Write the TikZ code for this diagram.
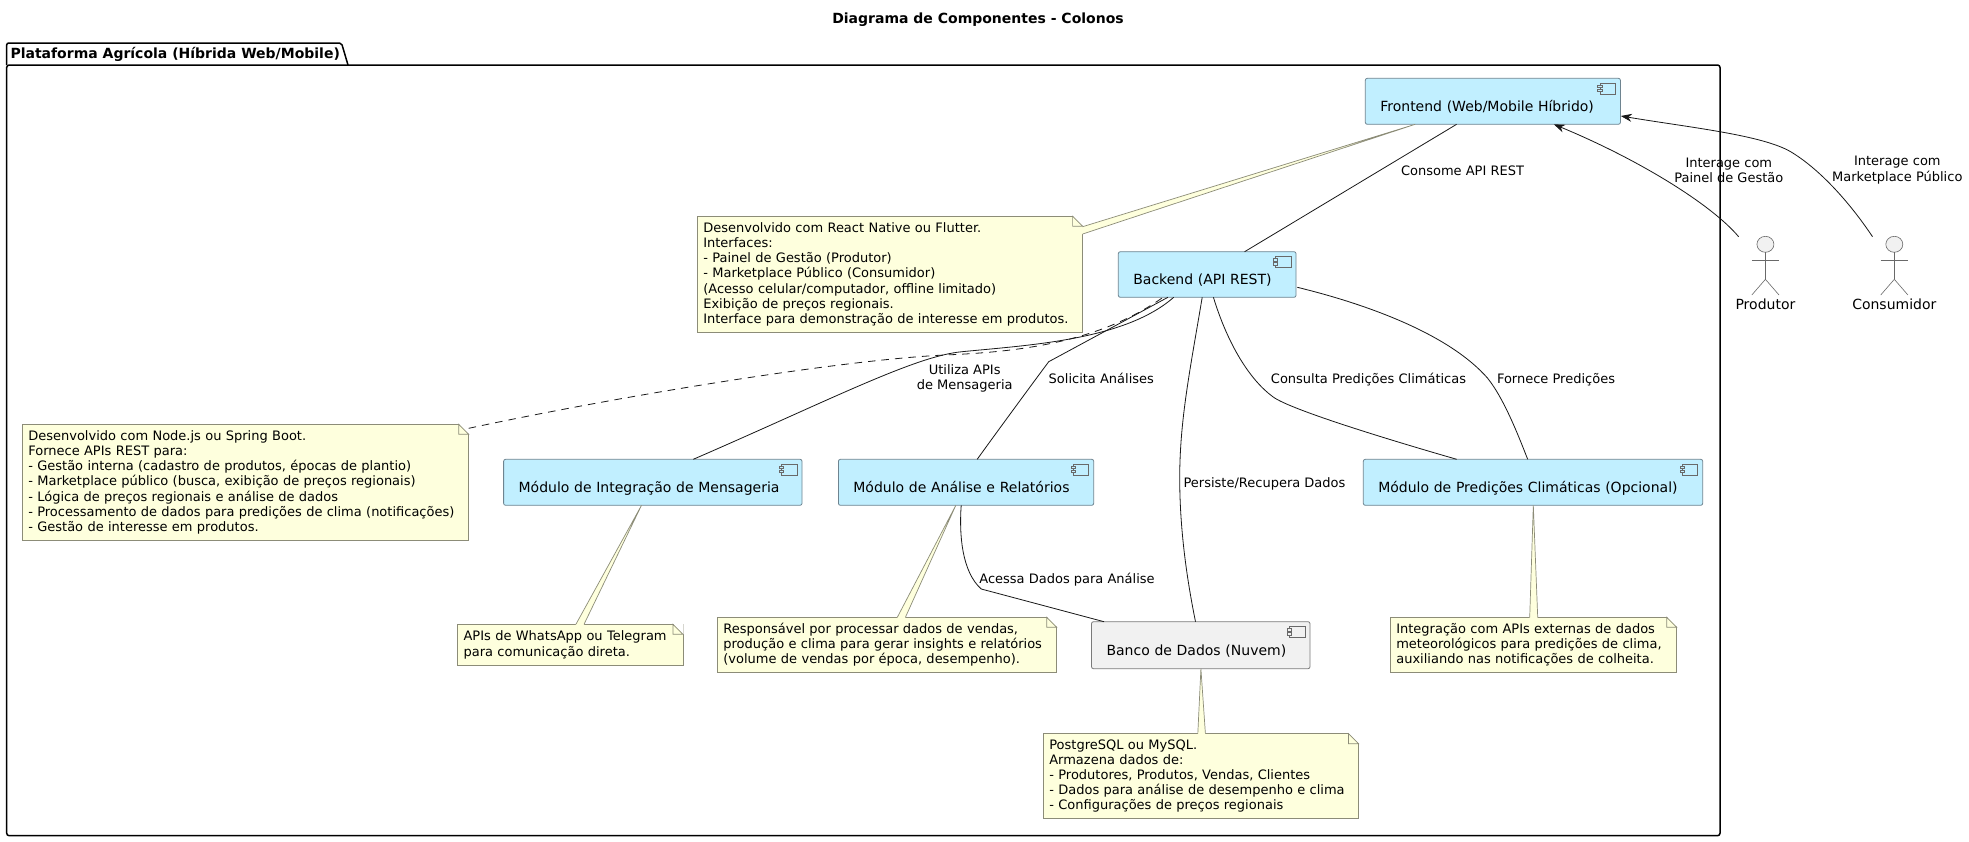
\documentclass[tikz,border=0pt]{standalone}
\usepackage{fontspec}
\setmainfont{DejaVu Sans}
\usetikzlibrary{arrows.meta,calc}
\definecolor{compfill}{HTML}{C1EFFF}
\definecolor{compline}{HTML}{6E8490}
\definecolor{dbfill}{HTML}{F1F1F1}
\definecolor{dbline}{HTML}{7A7A7A}
\definecolor{notefillc}{HTML}{FEFFDD}
\definecolor{notelinec}{HTML}{8C8C78}
\definecolor{edgec}{HTML}{181818}
\tikzset{
  box/.style={draw=compline,fill=compfill,line width=0.8pt,rounded corners=2pt,anchor=north west,outer sep=0pt,
    inner ysep=0pt,inner xsep=15pt,align=left,text=black,font=\fontsize{14}{16}\selectfont},
  dbbox/.style={box,draw=dbline,fill=dbfill},
  notebox/.style={draw=notelinec,fill=notefillc,line width=0.8pt,anchor=north west,outer sep=0pt,inner ysep=0pt,
    inner xsep=6pt,align=left,font=\fontsize{13}{15.2}\selectfont},
  notefillst/.style={fill=notefillc,draw=none},
  noteline/.style={draw=notelinec,line width=0.7pt},
  edge/.style={draw=edgec,line width=0.8pt},
  arrowedge/.style={edge,-{Stealth[length=11pt,width=8pt,inset=3.5pt]}},
  lbl/.style={font=\fontsize{13}{15.2}\selectfont,align=center,inner sep=0pt,text=black},
  actorline/.style={draw=edgec!65,line width=0.6pt},
  actorlbl/.style={font=\fontsize{14}{16}\selectfont,inner sep=0pt,anchor=base},
}
\newcommand\compicon[2]{%
  \draw[draw=edgec!65,line width=0.5pt] ([shift={(-20.4,5)}]#1.north east) rectangle ([shift={(-5,15.7)}]#1.north east);
  \draw[draw=edgec!65,fill=#2,line width=0.5pt] ([shift={(-22.7,7)}]#1.north east) rectangle ([shift={(-18.4,9.3)}]#1.north east);
  \draw[draw=edgec!65,fill=#2,line width=0.5pt] ([shift={(-22.7,11)}]#1.north east) rectangle ([shift={(-18.4,13.3)}]#1.north east);
}
\newcommand\notefold[1]{%
  \fill[white] ([shift={(-10,-0.6)}]#1.north east) -- ([shift={(0.6,-0.6)}]#1.north east) -- ([shift={(0.6,10)}]#1.north east) -- cycle;
  \draw[noteline] ([shift={(-10,0)}]#1.north east) -- ([shift={(-10,10)}]#1.north east) -- ([shift={(0,10)}]#1.north east) -- cycle;
}
\newcommand\notetail[5]{%
  \coordinate (ta) at ($(#1)+#2$);
  \coordinate (tb) at ($(#1)+#3$);
  \fill[notefillst] (ta) -- (#4) -- (tb) -- ([shift={#5}]tb) -- ([shift={#5}]ta) -- cycle;
  \draw[noteline] (ta) -- (#4) -- (tb);
}
\newcommand\actorfig[1]{%
  \draw[actorline,fill=dbfill] (#1) ellipse [x radius=8.5,y radius=8];
  \draw[actorline] ($(#1)+(0,8)$) -- ($(#1)+(0,35)$);
  \draw[actorline] ($(#1)+(-13.6,16)$) -- ($(#1)+(13.6,16)$);
  \draw[actorline] ($(#1)+(-13.6,50.7)$) -- ($(#1)+(0,35)$) -- ($(#1)+(13.6,50.7)$);
}
\begin{document}
\begin{tikzpicture}[x=1pt,y=-1pt]
\useasboundingbox (0,0) rectangle (1969,841);
\fill[white] (0,0) rectangle (1969,841);

\node[font=\bfseries\fontsize{14}{16}\selectfont,inner sep=0pt,anchor=base] (title) at (978,23.3) {Diagrama de Componentes - Colonos};

% package
\draw[black,line width=1.5pt,rounded corners=2pt] (6.7,65) -- (6.7,43) -- (341.5,43) -- (348,65);
\draw[black,line width=1.5pt,rounded corners=2.5pt] (6.7,65) -- (1720,65) -- (1720,835.7) -- (6.7,835.7) -- cycle;
\node[font=\bfseries\fontsize{14}{16}\selectfont,inner sep=0pt,anchor=base west] (pkg) at (10.3,58) {Plataforma Agrícola (Híbrida Web/Mobile)};

% components
\node[box,minimum width=255.1pt,text width=225.1pt,text height=32.7pt,text depth=13.3pt] (fe) at (1365.3,78.3) {Frontend (Web/Mobile Híbrido)};
\node[box,minimum width=177.7pt,text width=147.7pt,text height=32.5pt,text depth=13.1pt] (be) at (1118.3,251.7) {Backend (API REST)};
\node[box,minimum width=298.4pt,text width=268.4pt,text height=33pt,text depth=13pt] (me) at (503.6,459.3) {Módulo de Integração de Mensageria};
\node[box,minimum width=255.3pt,text width=225.3pt,text height=33pt,text depth=13pt] (an) at (838.4,459.3) {Módulo de Análise e Relatórios};
\node[box,minimum width=339.4pt,text width=309.4pt,text height=33pt,text depth=13pt] (pc) at (1363.3,459.3) {Módulo de Predições Climáticas (Opcional)};
\node[dbbox,minimum width=218.5pt,text width=188.5pt,text height=33.3pt,text depth=13.7pt] (db) at (1091.5,621.7) {Banco de Dados (Nuvem)};
\foreach \n in {fe,be,me,an,pc} {\compicon{\n}{compfill}}
\compicon{db}{dbfill}

% notes
\node[notebox,minimum width=385.3pt,minimum height=116pt,text width=373.3pt] (n1) at (697.3,216.3) {Desenvolvido com React Native ou Flutter.\\Interfaces:\\- Painel de Gestão (Produtor)\\- Marketplace Público (Consumidor)\\(Acesso celular/computador, offline limitado)\\Exibição de preços regionais.\\Interface para demonstração de interesse em produtos.};
\node[notebox,minimum width=446.4pt,minimum height=116pt,text width=434.4pt] (n2) at (22.3,424.3) {Desenvolvido com Node.js ou Spring Boot.\\Fornece APIs REST para:\\- Gestão interna (cadastro de produtos, épocas de plantio)\\- Marketplace público (busca, exibição de preços regionais)\\- Lógica de preços regionais e análise de dados\\- Processamento de dados para predições de clima (notificações)\\- Gestão de interesse em produtos.};
\node[notebox,minimum width=225.4pt,minimum height=41.4pt,text width=213.4pt] (n3) at (457.6,624.3) {APIs de WhatsApp ou Telegram\\para comunicação direta.};
\node[notebox,minimum width=339.3pt,minimum height=55pt,text width=327.3pt] (n4) at (717.4,617.3) {Responsável por processar dados de vendas,\\produção e clima para gerar insights e relatórios\\(volume de vendas por época, desempenho).};
\node[notebox,minimum width=315.2pt,minimum height=84.6pt,text width=303.2pt] (n5) at (1043.3,733.7) {PostgreSQL ou MySQL.\\Armazena dados de:\\- Produtores, Produtos, Vendas, Clientes\\- Dados para análise de desempenho e clima\\- Configurações de preços regionais};
\node[notebox,minimum width=286.4pt,minimum height=55pt,text width=274.4pt] (n6) at (1390.3,617.3) {Integração com APIs externas de dados\\meteorológicos para predições de clima,\\auxiliando nas notificações de colheita.};
\foreach \n in {n1,n2,n3,n4,n5,n6} {\notefold{\n}}

% note tails
\notetail{n1.north east}{(0,10.4)}{(0,17.7)}{$(fe.south west)+(49.9,0)$}{(-1,0)}
\notetail{n3.north west}{(118.3,0)}{(126.4,0)}{$(me.south west)+(137.9,0)$}{(0,1)}
\notetail{n4.north west}{(179.9,0)}{(188,0)}{$(an.south west)+(117.4,0)$}{(0,1)}
\notetail{n5.north west}{(154.5,0)}{(162.1,0)}{$(db.south west)+(109.4,0)$}{(0,1)}
\notetail{n6.north west}{(139.4,0)}{(147.4,0)}{$(pc.south west)+(170,0)$}{(0,1)}

% actors
\coordinate (prodhead) at (1765.4,244.3);
\coordinate (conshead) at (1894.3,244.3);
\actorfig{prodhead}
\actorfig{conshead}
\node[actorlbl] (prod) at (1765.4,309.3) {Produtor};
\node[actorlbl] (cons) at (1894.3,309.3) {Consumidor};

% edges
\draw[edge] ($(fe.south west)+(91.3,0)$) -- ($(be.north west)+(126.3,0)$);
\draw[edge] ($(be.south west)+(55.4,0)$) .. controls (1125,340) and (1030,345) .. (962,351.7)
   .. controls (915,356) and (830,400) .. ($(me.north west)+(189.7,0)$);
\draw[edge] ($(be.south west)+(49.6,0)$) -- (1048.7,361.7) .. controls (1035,380) and (991,440) .. ($(an.north west)+(138.8,0)$);
\draw[edge] ($(be.south west)+(83.9,0)$) .. controls (1190,370) and (1179.7,420) .. (1179.7,478)
   .. controls (1179.7,530) and (1187,580) .. ($(db.north west)+(104,0)$);
\draw[edge] ($(be.south west)+(95.1,0)$) .. controls (1228,345) and (1250,380) .. (1272.8,396.7)
   .. controls (1290,410) and (1400,443) .. ($(pc.north west)+(93.4,0)$);
\draw[edge] ($(be.north east)+(1.3,35.6)$) .. controls (1370,305) and (1450,335) .. (1487.7,378.3)
   .. controls (1505,400) and (1520,440) .. ($(pc.north west)+(164.4,0)$);
\draw[edge] ($(an.south west)+(122.8,0)$) .. controls (959,535) and (962,572) .. (981.25,589)
   .. controls (1020,599.3) and (1065,611.3) .. ($(db.north west)+(12.5,0)$);
\draw[edge,dash pattern=on 7.5pt off 6pt] ($(n2.north east)+(0,4)$) .. controls (620,396) and (840,360) .. (944.6,355)
   .. controls (1020,352) and (1100,342) .. ($(be.south west)+(44.7,0)$);

% actor arrows
\coordinate (prodstart) at (1738.6,236.7);
\coordinate (consstart) at (1872.5,236.7);
\draw[arrowedge] (prodstart) .. controls (1712,205) and (1640,160) .. ($(fe.south west)+(188.5,0)$);
\draw[arrowedge] (consstart) .. controls (1848,200) and (1818,168) .. (1790.6,151.7)
   .. controls (1762,135) and (1690,127.5) .. ($(fe.south east)+(0.4,-8.3)$);

% labels
\node[lbl,anchor=base] (l1) at (1462.5,175.7) {Consome API REST};
\node[lbl,anchor=center] (l2) at (1728.8,170.2) {Interage com\\Painel de Gestão};
\node[lbl,anchor=center] (l3) at (1897.3,170.2) {Interage com\\Marketplace Público};
\node[lbl,anchor=center] (l4) at (964.7,378.2) {Utiliza APIs\\de Mensageria};
\node[lbl,anchor=base] (l5) at (1101.3,383.3) {Solicita Análises};
\node[lbl,anchor=base] (l6) at (1368.5,383.3) {Consulta Predições Climáticas};
\node[lbl,anchor=base] (l7) at (1556,383.3) {Fornece Predições};
\node[lbl,anchor=base] (l8) at (1264.5,487.3) {Persiste/Recupera Dados};
\node[lbl,anchor=base] (l9) at (1067,583.3) {Acessa Dados para Análise};
\end{tikzpicture}
\end{document}
